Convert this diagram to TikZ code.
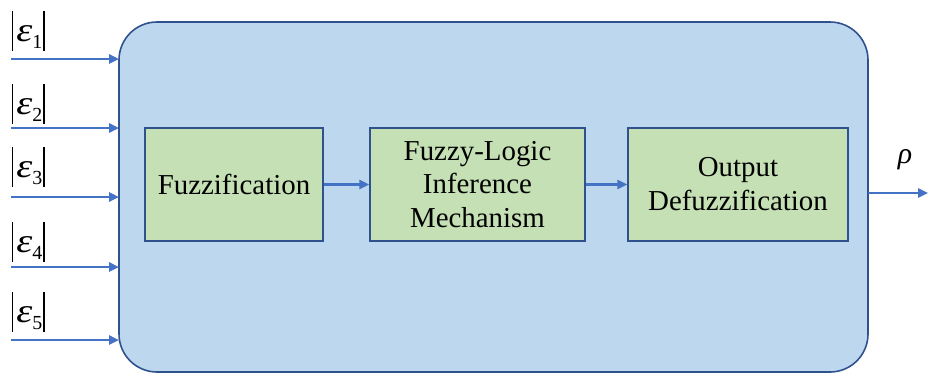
\documentclass[tikz,border=0pt]{standalone}
\usepackage{fontspec}
\setmainfont{Liberation Serif}
\usetikzlibrary{arrows.meta}
\definecolor{outerfill}{HTML}{BDD7EE}
\definecolor{boxline}{HTML}{2F528F}
\definecolor{innerfill}{HTML}{C5E0B4}
\definecolor{arrowblue}{HTML}{4472C4}
\newcommand{\absbar}{\rule[-10bp]{1.2bp}{40bp}}
\tikzset{
  outerbox/.style={draw=boxline, fill=outerfill, line width=1.6bp, rounded corners=38bp},
  stagebox/.style={draw=boxline, fill=innerfill, line width=1.5bp, align=center,
    font=\fontsize{29}{34}\selectfont, inner sep=0pt},
  flow/.style={draw=arrowblue, line width=2.4bp, -{Triangle[length=10bp,width=9bp]}},
  epslabel/.style={anchor=west, inner sep=0pt, font=\fontsize{34}{38}\selectfont},
}
\begin{document}
\begin{tikzpicture}[x=1bp,y=-1bp]
\useasboundingbox (0,0) rectangle (936,382);
\draw[outerbox] (119,22) rectangle (868,372);
\node[stagebox, minimum width=178bp, minimum height=113bp] (fz) at (234,184.5) {Fuzzification};
\node[stagebox, minimum width=215bp, minimum height=113bp] (inf) at (477.5,184.5) {Fuzzy-Logic\\Inference\\Mechanism};
\node[stagebox, minimum width=220bp, minimum height=113bp] (out) at (738,184.5) {Output\\Defuzzification};
\draw[flow] (fz.east) -- (inf.west);
\draw[flow] (inf.east) -- (out.west);
\coordinate (oe) at (868,193);
\coordinate (oend) at (928,193);
\draw[flow] (oe) -- (oend);
\node[inner sep=0pt, font=\fontsize{30}{32}\selectfont] (rho) at (905,160) {\textit{ρ}};
\foreach \i/\y/\ly in {1/59/31, 2/128/104, 3/197/167, 4/267/242, 5/340/312} {
  \coordinate (s\i) at (11,\y);
  \coordinate (e\i) at (119,\y);
  \draw[flow] (s\i) -- (e\i);
  \node[epslabel] (l\i) at (12,\ly) {\absbar\hspace{3bp}\scalebox{1.2}[1]{\textit{ε}}{\fontsize{20}{22}\selectfont\raisebox{-7bp}{\i}}\hspace{1bp}\absbar};
}
\end{tikzpicture}
\end{document}
